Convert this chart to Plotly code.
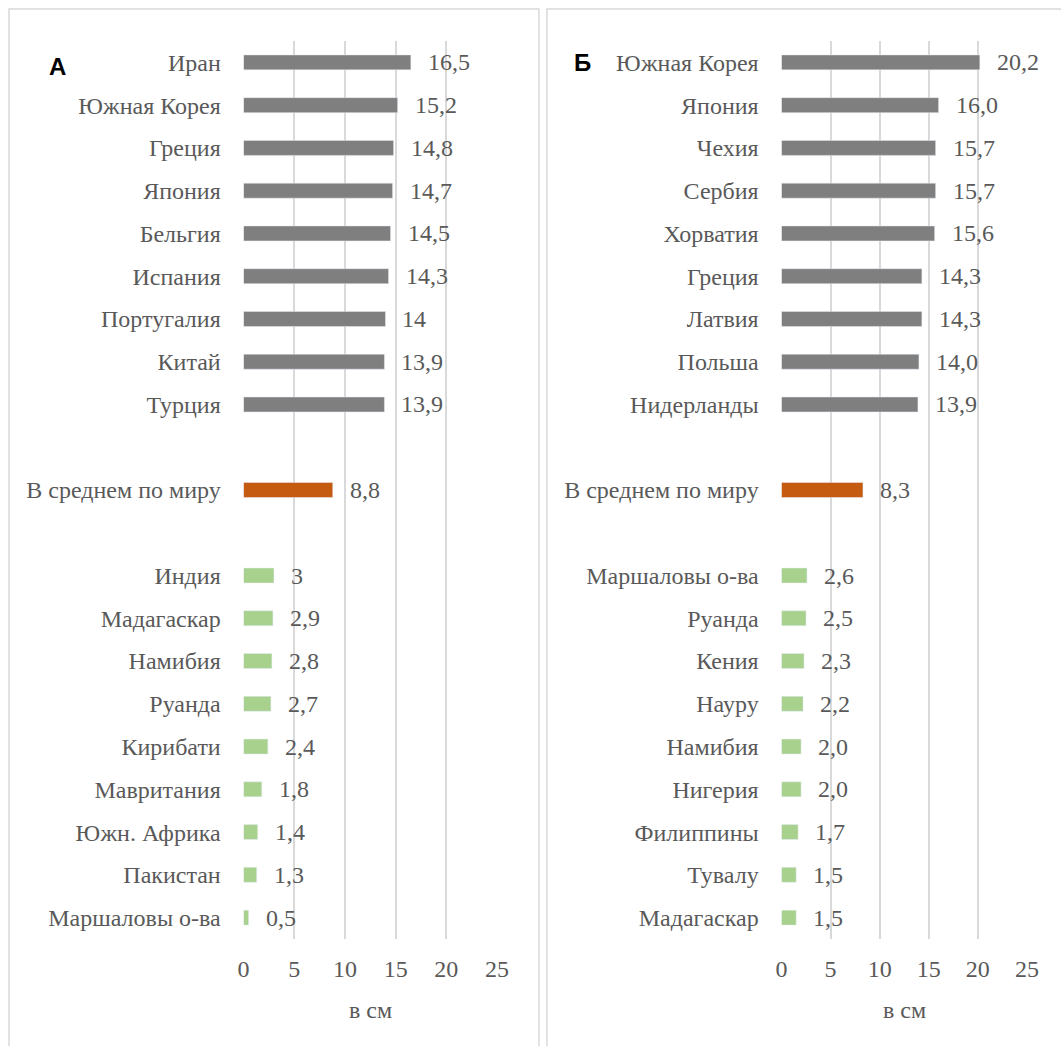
import plotly.graph_objects as go

# ---- data ----
top_a = ["Иран", "Южная Корея", "Греция", "Япония", "Бельгия", "Испания", "Португалия", "Китай", "Турция"]
top_a_vals = [16.5, 15.2, 14.8, 14.7, 14.5, 14.3, 14.0, 13.9, 13.9]
top_a_text = ["16,5", "15,2", "14,8", "14,7", "14,5", "14,3", "14", "13,9", "13,9"]
avg_label = "В среднем по миру"
avg_a = 8.8
avg_a_text = "8,8"
bot_a = ["Индия", "Мадагаскар", "Намибия", "Руанда", "Кирибати", "Мавритания", "Южн. Африка", "Пакистан", "Маршаловы о-ва"]
bot_a_vals = [3.0, 2.9, 2.8, 2.7, 2.4, 1.8, 1.4, 1.3, 0.5]
bot_a_text = ["3", "2,9", "2,8", "2,7", "2,4", "1,8", "1,4", "1,3", "0,5"]

top_b = ["Южная Корея", "Япония", "Чехия", "Сербия", "Хорватия", "Греция", "Латвия", "Польша", "Нидерланды"]
top_b_vals = [20.2, 16.0, 15.7, 15.7, 15.6, 14.3, 14.3, 14.0, 13.9]
top_b_text = ["20,2", "16,0", "15,7", "15,7", "15,6", "14,3", "14,3", "14,0", "13,9"]
avg_b = 8.3
avg_b_text = "8,3"
bot_b = ["Маршаловы о-ва", "Руанда", "Кения", "Науру", "Намибия", "Нигерия", "Филиппины", "Тувалу", "Мадагаскар"]
bot_b_vals = [2.6, 2.5, 2.3, 2.2, 2.0, 2.0, 1.7, 1.5, 1.5]
bot_b_text = ["2,6", "2,5", "2,3", "2,2", "2,0", "2,0", "1,7", "1,5", "1,5"]

x_ticks = [0, 5, 10, 15, 20, 25]
axis_title = "в см"
panel_letters = ["А", "Б"]

GRAY = "#7f7f7f"
ORANGE = "#c55a11"
GREEN = "#a9d18e"
TXT = "#595959"
GRID = "#d9d9d9"
FONT = "serif"
FS = 24

W, H = 1061, 1046
def px(x):
    return ((x - 5) / 0.985) / W
def py(y):
    return 1 - y / H

fig = go.Figure()

panels = [
    (top_a, top_a_vals, top_a_text, avg_a, avg_a_text, bot_a, bot_a_vals, bot_a_text, "x", "y", 243, 497),
    (top_b, top_b_vals, top_b_text, avg_b, avg_b_text, bot_b, bot_b_vals, bot_b_text, "x2", "y2", 782, 1028),
]

annotations = []
for i, (tn, tv, tt, av, at, bn, bv, bt, xa, ya, x0, x1) in enumerate(panels):
    gap1 = " " * (2 * i + 1)
    gap2 = " " * (2 * i + 2)
    cats = tn + [gap1, avg_label + ("" if i == 0 else "\u200b"), gap2] + bn
    avg_cat = cats[len(tn) + 1]
    fig.add_trace(go.Bar(y=tn, x=tv, orientation="h", marker_color=GRAY, width=0.35,
                         xaxis=xa, yaxis=ya, showlegend=False, hoverinfo="skip"))
    fig.add_trace(go.Bar(y=[avg_cat], x=[av], orientation="h", marker_color=ORANGE, width=0.35,
                         xaxis=xa, yaxis=ya, showlegend=False, hoverinfo="skip"))
    fig.add_trace(go.Bar(y=bn, x=bv, orientation="h", marker_color=GREEN, width=0.35,
                         xaxis=xa, yaxis=ya, showlegend=False, hoverinfo="skip"))
    for name, val, txt in zip(tn + [avg_cat] + bn, tv + [av] + bv, tt + [at] + bt):
        annotations.append(dict(x=val, y=name, xref=xa, yref=ya, text=txt, showarrow=False,
                                xanchor="left", yanchor="middle", xshift=15,
                                font=dict(family=FONT, size=FS, color=TXT)))
    annotations.append(dict(x=px((x0 + x1) / 2), y=py(1010), xref="paper", yref="paper",
                            text=axis_title, showarrow=False, xanchor="center", yanchor="middle",
                            font=dict(family=FONT, size=FS, color=TXT)))
    xkey = "xaxis" if i == 0 else "xaxis2"
    ykey = "yaxis" if i == 0 else "yaxis2"
    fig.update_layout(**{
        xkey: dict(domain=[px(x0), px(x1)], range=[0, 25], tickvals=x_ticks,
                   showgrid=True, gridcolor=GRID, gridwidth=1.5, zeroline=False,
                   showline=False, ticks="outside", ticklen=8, tickcolor="rgba(0,0,0,0)",
                   tickfont=dict(family=FONT, size=FS, color=TXT), anchor=ya, fixedrange=True),
        ykey: dict(domain=[py(939), py(41)], categoryorder="array", categoryarray=cats,
                   type="category", range=[len(cats) - 0.5, -0.5],
                   showgrid=False, zeroline=False, showline=False,
                   ticks="outside", ticklen=17, tickcolor="rgba(0,0,0,0)",
                   tickfont=dict(family=FONT, size=FS, color=TXT), anchor=xa),
    })

annotations.append(dict(x=px(57), y=py(66), xref="paper", yref="paper", text="<b>" + panel_letters[0] + "</b>",
                        showarrow=False, xanchor="center", yanchor="middle",
                        font=dict(family="Arial", size=24, color="#000000")))
annotations.append(dict(x=px(583), y=py(62), xref="paper", yref="paper", text="<b>" + panel_letters[1] + "</b>",
                        showarrow=False, xanchor="center", yanchor="middle",
                        font=dict(family="Arial", size=24, color="#000000")))

shapes = [
    dict(type="rect", xref="paper", yref="paper", x0=px(8), x1=px(539), y0=py(1060), y1=py(9),
         line=dict(color=GRID, width=1.5)),
    dict(type="rect", xref="paper", yref="paper", x0=px(547), x1=px(1075), y0=py(1060), y1=py(9),
         line=dict(color=GRID, width=1.5)),
]

fig.update_layout(width=W, height=H, margin=dict(l=0, r=0, t=0, b=0),
                  paper_bgcolor="white", plot_bgcolor="white", bargap=0.65,
                  font=dict(family=FONT),
                  annotations=annotations, shapes=shapes)

fig.write_html("out.html")
